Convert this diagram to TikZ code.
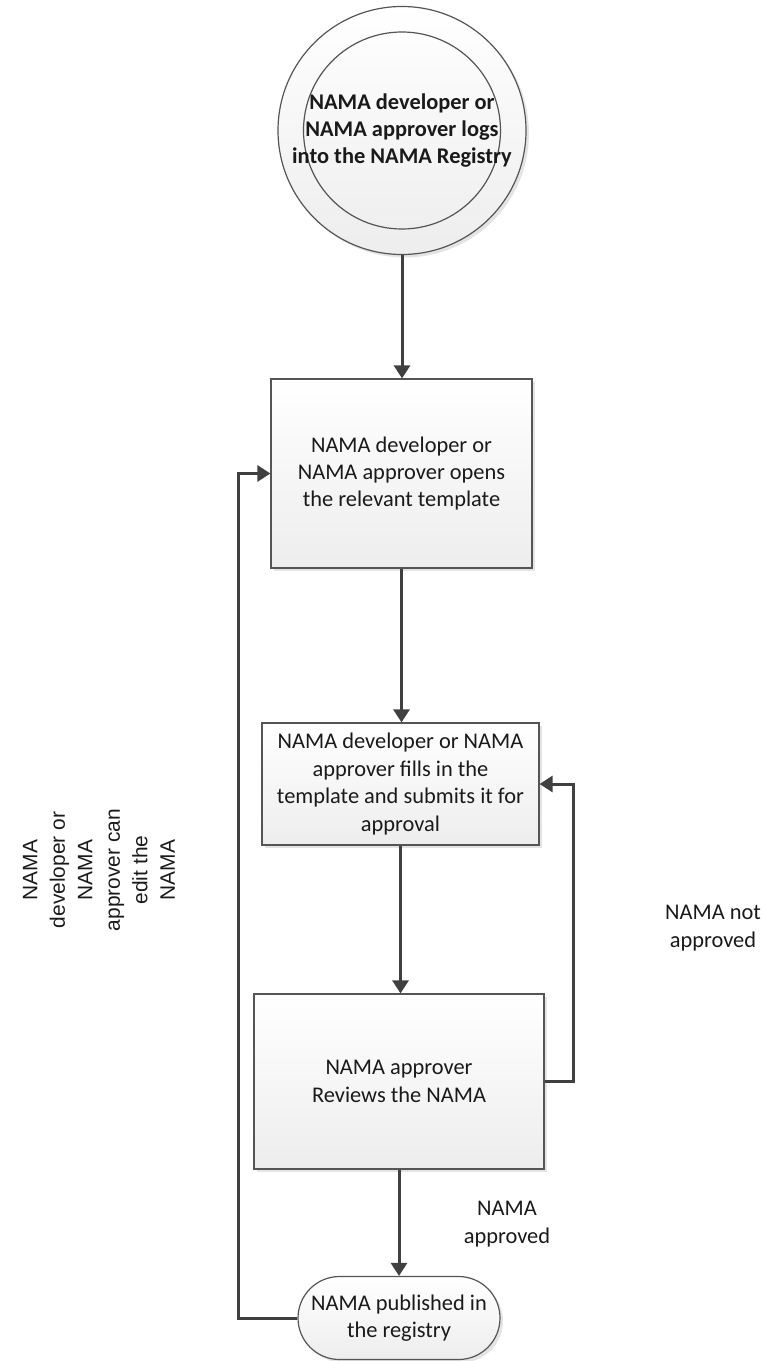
\documentclass[tikz,border=0pt]{standalone}
\usepackage{fontspec}
\setmainfont{Carlito}
\newfontfamily\arialf{Liberation Sans}
\usetikzlibrary{arrows.meta,shapes.misc,shadows}
\definecolor{linec}{HTML}{404040}
\definecolor{borderc}{HTML}{555555}
\definecolor{txtc}{HTML}{1A1A1A}
\begin{document}
\begin{tikzpicture}[x=1bp,y=-1bp,
  box/.style={draw=borderc, line width=1.2bp, top color=white, bottom color=gray!14,
    drop shadow={shadow xshift=3bp, shadow yshift=-3bp, fill=gray!35, opacity=0.6},
    align=center, font=\fontsize{22.5}{27.5}\selectfont, text=txtc, inner sep=0pt},
  conn/.style={draw=linec, line width=3bp, -{Triangle[length=13bp,width=16bp]}},
  lbl/.style={align=center, font=\fontsize{22.5}{27.5}\selectfont, text=txtc}]
\useasboundingbox (0,0) rectangle (770,1361);

% start circle
\node[box, circle, minimum size=248bp] (start) at (402,130.5) {};
\draw[draw=borderc, line width=1.2bp] (start.center) circle[radius=98.5];
\node[align=center, font=\bfseries\fontsize{22.5}{27.5}\selectfont, text=txtc] (startlbl) at (start.center) {NAMA developer or\\NAMA approver logs\\into the NAMA Registry};

% process boxes
\node[box, minimum width=261bp, minimum height=189bp] (open) at (401.5,473.5) {NAMA developer or\\NAMA approver opens\\the relevant template};
\node[box, minimum width=277bp, minimum height=122bp] (fill) at (400.5,784) {NAMA developer or NAMA\\approver fills in the\\template and submits it for\\approval};
\node[box, minimum width=290bp, minimum height=175bp] (review) at (399,1081.5) {NAMA approver\\Reviews the NAMA};
\node[box, rounded rectangle, minimum width=202bp, minimum height=83bp] (pub) at (399,1318) {NAMA published in\\the registry};

% connectors
\draw[conn] (start.south) -- (start.south |- open.north);
\draw[conn] (open.south) -- (open.south |- fill.north);
\draw[conn] (fill.south) -- (fill.south |- review.north);
\draw[conn] (review.south) -- (review.south |- pub.north);
\coordinate (rc) at (573,1081.5);
\draw[conn] (review.east) -- (rc) |- (fill.east);
\coordinate (lc) at (238,1318);
\draw[conn] (pub.west) -- (lc) |- (open.west);

% labels
\node[lbl] (appr) at (507,1224) {NAMA\\approved};
\node[lbl] (notappr) at (713,928) {NAMA not\\approved};
\node[rotate=90, align=center, font=\arialf\fontsize{21}{27.6}\selectfont, text=txtc] (edit) at (99,870) {NAMA\\developer or\\NAMA\\approver can\\edit the\\NAMA};
\end{tikzpicture}
\end{document}
